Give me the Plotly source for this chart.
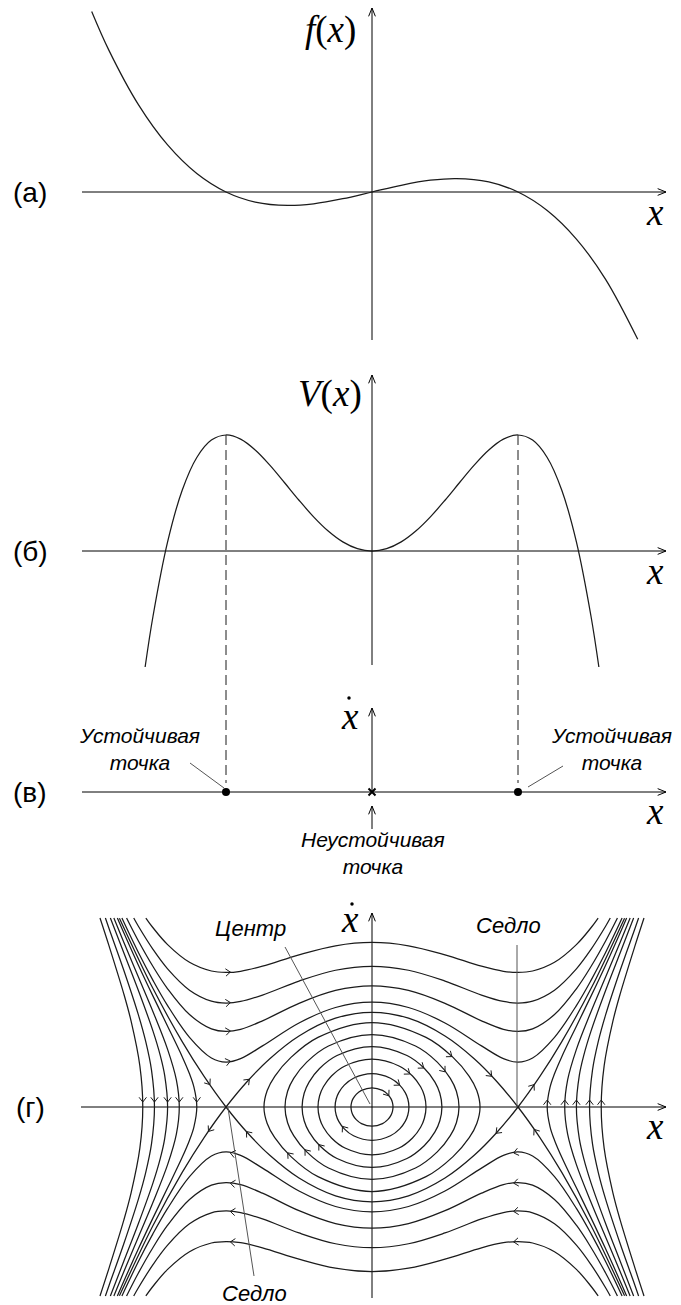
import math
import plotly.graph_objects as go

W, H = 681, 1305
X_ORIGIN = 372          # page column of x = 0, shared by every panel
SX = 146.0              # pixels per unit of x

# vertical layout of the panels: (top px, bottom px, baseline px, px per unit)
PANELS = {
    "a": (0, 350, 192, 35.0),
    "b": (350, 880, 551, 464.0),
    "c": (690, 890, 792, 100.0),
    "d": (895, 1305, 1107, 134.0),
}
AX = {"a": ("x", "y"), "b": ("x2", "y2"), "c": ("x3", "y3"), "d": ("x4", "y4")}

# ---------------- (а) force f(x) ----------------
f_x = [-1.92, -1.8, -1.6, -1.4, -1.2, -1.0, -0.8, -0.577, -0.4, -0.2, 0.0,
       0.2, 0.4, 0.577, 0.8, 1.0, 1.2, 1.4, 1.6, 1.82]
f_y = [5.158, 4.032, 2.496, 1.344, 0.528, 0.0, -0.288, -0.385, -0.336, -0.192, 0.0,
       0.192, 0.336, 0.385, 0.288, 0.0, -0.528, -1.344, -2.496, -4.209]

# ---------------- (б) potential V(x) ----------------
V_x = [-1.554, -1.5, -1.4, -1.3, -1.2, -1.1, -1.0, -0.9, -0.8, -0.7, -0.6, -0.5, -0.4,
       -0.3, -0.2, -0.1, 0.0, 0.1, 0.2, 0.3, 0.4, 0.5, 0.6, 0.7, 0.8, 0.9, 1.0, 1.1,
       1.2, 1.3, 1.4, 1.5, 1.554]
V_y = [-0.25, -0.1406, 0.0196, 0.131, 0.2016, 0.239, 0.25, 0.241, 0.2176, 0.185, 0.1476,
       0.1094, 0.0736, 0.043, 0.0196, 0.005, 0.0, 0.005, 0.0196, 0.043, 0.0736, 0.1094,
       0.1476, 0.185, 0.2176, 0.241, 0.25, 0.239, 0.2016, 0.131, 0.0196, -0.1406, -0.25]
V_peak_x = [-1.0, 1.0]
V_peak = 0.25

# ---------------- (в) phase line ----------------
stable_x = [-1.0, 1.0]
unstable_x = [0.0]

# ---------------- (г) phase portrait (x, ẋ) ----------------
# the portrait is symmetric in x and in ẋ, so each family is given for x >= 0, ẋ >= 0
orbit_x = [
    [0, 0.072, 0.108, 0.1296, 0.1397, 0.144],
    [0, 0.1265, 0.1898, 0.2277, 0.2454, 0.253],
    [0, 0.185, 0.2775, 0.333, 0.3589, 0.37],
    [0, 0.2395, 0.3593, 0.4311, 0.4646, 0.479],
    [0, 0.298, 0.447, 0.5364, 0.5781, 0.596],
    [0, 0.37, 0.555, 0.666, 0.7178, 0.74],
]
orbit_v = [
    [0.1433, 0.1239, 0.0945, 0.0622, 0.0347, 0],
    [0.2489, 0.2147, 0.1631, 0.1070, 0.0596, 0],
    [0.3571, 0.3064, 0.2313, 0.1510, 0.0838, 0],
    [0.4507, 0.3839, 0.2870, 0.1859, 0.1027, 0],
    [0.5405, 0.4553, 0.3351, 0.2140, 0.1173, 0],
    [0.6306, 0.5197, 0.3702, 0.2291, 0.1231, 0],
]
# arrow positions on the orbits, as a fraction of the turning point
orbit_arrow_up = [0.8, 0.75, 0.7, 0.74, 0.84, 0.74]
orbit_arrow_down = [None, 0.8, None, 0.76, 0.77, 0.78]

# open trajectories passing over the saddles
open_x = [
    [0, 0.25, 0.5, 0.75, 0.9, 1.0, 1.1, 1.25, 1.4, 1.5, 1.549],
    [0, 0.25, 0.5, 0.75, 0.9, 1.0, 1.1, 1.25, 1.4, 1.5, 1.6, 1.632],
    [0, 0.25, 0.5, 0.75, 0.9, 1.0, 1.1, 1.25, 1.4, 1.5, 1.6, 1.681],
    [0, 0.25, 0.5, 0.75, 0.9, 1.0, 1.1, 1.25, 1.4, 1.5, 1.6, 1.713],
]
open_v = [
    [1.228, 1.2031, 1.1355, 1.0506, 1.0129, 1.004, 1.0149, 1.0799, 1.2119, 1.3376, 1.41],
    [1.0499, 1.0206, 0.9399, 0.8354, 0.7875, 0.776, 0.790, 0.872, 1.031, 1.1762, 1.3487, 1.41],
    [0.9042, 0.8701, 0.7739, 0.6429, 0.5793, 0.5636, 0.5828, 0.6898, 0.8823, 1.0483, 1.2387, 1.41],
    [0.7824, 0.7427, 0.6273, 0.456, 0.361, 0.335, 0.366, 0.52, 0.757, 0.9452, 1.1528, 1.41],
]

# trajectories reflected outside the saddles
outer_x = [
    [1.2, 1.22, 1.25, 1.3, 1.4, 1.5, 1.6, 1.7, 1.744],
    [1.32, 1.34, 1.4, 1.5, 1.6, 1.7, 1.768],
    [1.4, 1.42, 1.45, 1.5, 1.6, 1.7, 1.792],
    [1.49, 1.51, 1.55, 1.6, 1.7, 1.8, 1.826],
    [1.57, 1.59, 1.65, 1.7, 1.8, 1.863],
]
outer_v = [
    [0, 0.1497, 0.2478, 0.3758, 0.6033, 0.8273, 1.0583, 1.2997, 1.41],
    [0, 0.202, 0.4304, 0.7111, 0.9702, 1.229, 1.41],
    [0, 0.2362, 0.3834, 0.5661, 0.8695, 1.1512, 1.41],
    [0, 0.2739, 0.4891, 0.6874, 1.0207, 1.3283, 1.41],
    [0, 0.3074, 0.6407, 0.8445, 1.1983, 1.41],
]

# separatrix through both saddles (x >= 0 half of one branch)
sep_x = [0, 0.25, 0.5, 0.7, 0.85, 1.0, 1.15, 1.3, 1.5, 1.73]
sep_v = [0.7071, 0.6629, 0.5303, 0.3606, 0.1962, 0.0, -0.2280, -0.4879, -0.8839, -1.4092]

# ---------------------------------------------------------------------------
fig = go.Figure()
INK = "#1b1b1b"
CURVE = dict(color=INK, width=1.25)
AXLINE = dict(color="black", width=1)
LEADER = dict(color="#555555", width=1)


def px2d(px, py, p):
    top, bot, base, sy = PANELS[p]
    return (px - X_ORIGIN) / SX, (base - py) / sy


def add(xs, ys, p, line, shape="linear"):
    xa, ya = AX[p]
    fig.add_trace(go.Scatter(x=xs, y=ys, mode="lines", xaxis=xa, yaxis=ya,
                             line=dict(line, shape=shape), hoverinfo="skip"))


def chevron(xh, yh, ddx, ddy, p, length=6.0, half=38.0):
    """Open arrowhead with its tip at (xh, yh) pointing along (ddx, ddy) (data units)."""
    sy = PANELS[p][3]
    ux, uy = ddx * SX, -ddy * sy
    n = math.hypot(ux, uy)
    ux, uy = ux / n, uy / n
    ends = []
    for s in (1, -1):
        a = math.radians(half) * s
        bx = -ux * math.cos(a) + uy * math.sin(a)
        by = -ux * math.sin(a) - uy * math.cos(a)
        ends.append((xh + bx * length / SX, yh - by * length / sy))
    xs = [ends[0][0], xh, ends[1][0], None]
    ys = [ends[0][1], yh, ends[1][1], None]
    return xs, ys


def locate(xs, ys, xt, upper):
    """Point on a polyline at abscissa xt, on the upper or lower half, with the flow direction."""
    for i in range(len(xs) - 1):
        x1, x2, y1, y2 = xs[i], xs[i + 1], ys[i], ys[i + 1]
        if x1 == x2:
            continue
        if (x1 - xt) * (x2 - xt) <= 0 and ((y1 + y2) > 0) == upper:
            t = (xt - x1) / (x2 - x1)
            y = y1 + t * (y2 - y1)
            dx, dy = x2 - x1, y2 - y1
            if dx * y < 0:
                dx, dy = -dx, -dy
            return xt, y, dx, dy
    return None


def axes(p, v_bottom_py, v_top_py, left_px=82, right_px=666):
    base = PANELS[p][2]
    x0, _ = px2d(left_px, base, p)
    x1, _ = px2d(right_px, base, p)
    _, yb = px2d(X_ORIGIN, v_bottom_py, p)
    _, yt = px2d(X_ORIGIN, v_top_py, p)
    xs = [x0, x1, None, 0, 0, None]
    ys = [0, 0, None, yb, yt, None]
    cx, cy = chevron(x1, 0, 1, 0, p, length=9, half=22)
    xs += cx; ys += cy
    cx, cy = chevron(0, yt, 0, 1, p, length=9, half=22)
    xs += cx; ys += cy
    add(xs, ys, p, AXLINE)


# ---------------- panel (а) ----------------
axes("a", 340, 8)
add(f_x, f_y, "a", CURVE, "spline")

# ---------------- panel (б) ----------------
axes("b", 665, 375)
add(V_x, V_y, "b", CURVE, "spline")
_, dash_end = px2d(0, 783, "b")
for xp in V_peak_x:
    add([xp, xp], [V_peak, dash_end], "b", dict(color=INK, width=1, dash="10px,5px"))

# ---------------- panel (в) ----------------
axes("c", 792, 708)
_, s0 = px2d(0, 829, "c")
_, s1 = px2d(0, 806, "c")
cx, cy = chevron(0, s1, 0, 1, "c", length=9, half=22)
add([0, 0, None] + cx, [s0, s1, None] + cy, "c", AXLINE)
fig.add_trace(go.Scatter(x=stable_x, y=[0] * len(stable_x), mode="markers", xaxis="x3", yaxis="y3",
                         marker=dict(color="black", size=8), hoverinfo="skip"))
fig.add_trace(go.Scatter(x=unstable_x, y=[0] * len(unstable_x), mode="markers", xaxis="x3", yaxis="y3",
                         marker=dict(color="black", size=7, symbol="x-thin",
                                     line=dict(color="black", width=2)), hoverinfo="skip"))
for (a1, a2) in [((190, 763), (224, 788)), ((528, 787), (563, 766))]:
    p1 = px2d(*a1, "c"); p2 = px2d(*a2, "c")
    add([p1[0], p2[0]], [p1[1], p2[1]], "c", LEADER)

# ---------------- panel (г) ----------------
axes("d", 1298, 913, left_px=81)

arrows_x, arrows_y = [], []


def put_arrow(loc, p="d"):
    if loc is None:
        return
    xs, ys = chevron(loc[0], loc[1], loc[2], loc[3], p)
    arrows_x.extend(xs); arrows_y.extend(ys)


# closed orbits around the centre
for k, (qx, qv) in enumerate(zip(orbit_x, orbit_v)):
    n = len(qx)
    xs = [qx[i] for i in range(n)] + [qx[i] for i in range(n - 2, -1, -1)] \
        + [-qx[i] for i in range(1, n)] + [-qx[i] for i in range(n - 2, -1, -1)]
    ys = [qv[i] for i in range(n)] + [-qv[i] for i in range(n - 2, -1, -1)] \
        + [-qv[i] for i in range(1, n)] + [qv[i] for i in range(n - 2, -1, -1)]
    add(xs, ys, "d", CURVE, "spline")
    put_arrow(locate(xs, ys, orbit_arrow_up[k] * qx[-1], True))
    if orbit_arrow_down[k] is not None:
        put_arrow(locate(xs, ys, -orbit_arrow_down[k] * qx[-1], False))

# open trajectories above and below
for qx, qv in zip(open_x, open_v):
    xs = [-x for x in reversed(qx)] + qx[1:]
    up = list(reversed(qv)) + qv[1:]
    dn = [-v for v in up]
    add(xs, up, "d", CURVE, "spline")
    add(xs, dn, "d", CURVE, "spline")
    put_arrow(locate(xs, up, -0.97, True))
    put_arrow(locate(xs, dn, -0.97, False))
    put_arrow(locate(xs, dn, 0.97, False))

# reflected trajectories on both sides
for qx, qv in zip(outer_x, outer_v):
    xs = list(reversed(qx)) + qx[1:]
    ys = [-v for v in reversed(qv)] + qv[1:]
    add(xs, ys, "d", CURVE, "spline")
    add([-x for x in xs], ys, "d", CURVE, "spline")
    # flow along the turning points: down on the left, up on the right
    ax_, ay_ = chevron(-qx[0], 0.037, 0, -1, "d")
    bx_, by_ = chevron(qx[0], 0.052, 0, 1, "d")
    arrows_x.extend(ax_ + bx_); arrows_y.extend(ay_ + by_)

# separatrices
sx_full = [-x for x in reversed(sep_x)] + sep_x[1:]
sp_full = list(reversed(sep_v)) + sep_v[1:]
sq_full = [-v for v in sp_full]
add(sx_full, sp_full, "d", CURVE, "spline")
add(sx_full, sq_full, "d", CURVE, "spline")
for xt, branch, upper in [(-1.11, sq_full, True), (-0.84, sp_full, True),
                          (-1.12, sp_full, False), (-0.86, sq_full, False),
                          (0.82, sp_full, True), (1.11, sq_full, True),
                          (0.85, sq_full, False), (1.11, sp_full, False)]:
    put_arrow(locate(sx_full, branch, xt, upper))

add(arrows_x, arrows_y, "d", dict(color=INK, width=1))

# leaders to the labels
for (a1, a2) in [((285, 947), (370, 1104)), ((517, 945), (517, 1107)), ((228, 1108), (254, 1276))]:
    p1 = px2d(*a1, "d"); p2 = px2d(*a2, "d")
    add([p1[0], p2[0]], [p1[1], p2[1]], "d", LEADER)

# dots of the ẋ labels
for p, (dx_, dy_) in [("c", (349, 698)), ("d", (352, 904))]:
    xd, yd = px2d(dx_, dy_, p)
    xa, ya = AX[p]
    fig.add_trace(go.Scatter(x=[xd], y=[yd], mode="markers", xaxis=xa, yaxis=ya,
                             marker=dict(color="black", size=3.5), hoverinfo="skip"))

# ---------------- text ----------------
SANS = "Liberation Sans, Arial, sans-serif"
SERIF = "Liberation Serif, Times New Roman, serif"
texts = [
    ("(а)", 30, 192, SANS, 28),
    ("(б)", 30, 551, SANS, 28),
    ("(в)", 30, 792, SANS, 28),
    ("(г)", 30, 1107, SANS, 28),
    ("<i>f</i>(<i>x</i>)", 330, 30, SERIF, 37),
    ("<i>V</i>(<i>x</i>)", 330, 394, SERIF, 37),
    ("<i>x</i>", 655, 213, SERIF, 37),
    ("<i>x</i>", 655, 571, SERIF, 37),
    ("<i>x</i>", 655, 811, SERIF, 37),
    ("<i>x</i>", 655, 1126, SERIF, 37),
    ("<i>x</i>", 350, 716, SERIF, 37),
    ("<i>x</i>", 350, 920, SERIF, 37),
    ("<i>Устойчивая</i><br><i>точка</i>", 139, 749, SANS, 21),
    ("<i>Устойчивая</i><br><i>точка</i>", 611, 749, SANS, 21),
    ("<i>Неустойчивая</i><br><i>точка</i>", 373, 853, SANS, 21),
    ("<i>Центр</i>", 251, 928, SANS, 22),
    ("<i>Седло</i>", 508, 925, SANS, 22),
    ("<i>Седло</i>", 254, 1293, SANS, 22),
]
annotations = [
    dict(text=t, x=px / W, y=1 - py / H, xref="paper", yref="paper",
         xanchor="center", yanchor="middle", showarrow=False,
         font=dict(family=fam, size=sz, color="black"))
    for t, px, py, fam, sz in texts
]

# ---------------- axes / layout ----------------
layout = dict(width=W, height=H, margin=dict(l=0, r=0, t=0, b=0, pad=0),
              paper_bgcolor="white", plot_bgcolor="rgba(0,0,0,0)",
              showlegend=False, annotations=annotations)
xr = [(0 - X_ORIGIN) / SX, (W - X_ORIGIN) / SX]
for i, p in enumerate(["a", "b", "c", "d"]):
    top, bot, base, sy = PANELS[p]
    sfx = "" if i == 0 else str(i + 1)
    layout["xaxis" + sfx] = dict(domain=[0, 1], range=xr, visible=False, fixedrange=True,
                                 anchor="y" + sfx)
    layout["yaxis" + sfx] = dict(domain=[1 - bot / H, 1 - top / H],
                                 range=[(base - bot) / sy, (base - top) / sy],
                                 visible=False, fixedrange=True, anchor="x" + sfx)
fig.update_layout(**layout)
fig.write_html("out.html")
